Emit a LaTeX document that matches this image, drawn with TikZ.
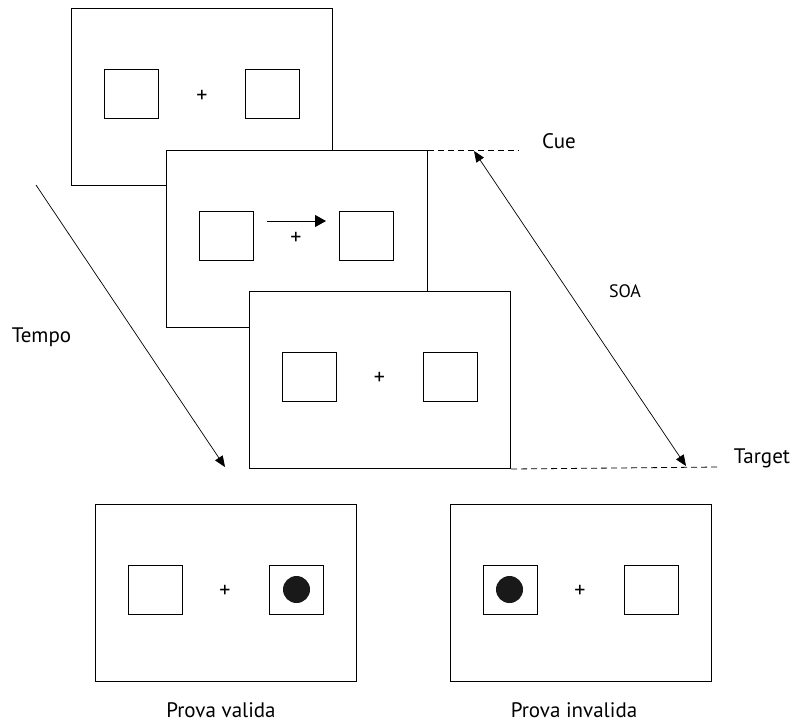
\documentclass[tikz,border=0pt]{standalone}
\usepackage{fontspec}
\setmainfont{PT Sans}
\usetikzlibrary{arrows.meta}
\begin{document}
\begin{tikzpicture}[x=1pt,y=-1pt,
  screen/.style={draw, fill=white, line width=1pt, minimum width=261pt,
    minimum height=177pt, inner sep=0pt, anchor=north west},
  placebox/.style={draw, line width=1pt, minimum width=54pt,
    minimum height=49pt, inner sep=0pt, anchor=north west},
  fix/.style={inner sep=0pt, font=\fontsize{22}{22}\selectfont},
  probe/.style={circle, fill=black!90, minimum size=27pt, inner sep=0pt},
  lbl/.style={inner sep=0pt, font=\fontsize{21}{25}\selectfont},
  smalllbl/.style={inner sep=0pt, font=\fontsize{18}{20}\selectfont},
  timeline/.style={line width=0.7pt, -{Triangle[length=11pt,width=9pt]}},
  guide/.style={line width=0.8pt, dash pattern=on 6pt off 4pt}
]
\useasboundingbox (0,0) rectangle (799,724);

% screen 1: fixation display
\node[screen] (s1) at (71,8) {};
\node[placebox] (s1l) at (104,69) {};
\node[placebox] (s1r) at (245,69) {};
\node[fix] (s1f) at (202,96) {+};

% screen 2: cue display
\node[screen] (s2) at (166,150) {};
\node[placebox] (s2l) at (199,211) {};
\node[placebox] (s2r) at (339,211) {};
\node[fix] (s2f) at (296,238) {+};
\coordinate (cueA) at (267,221);
\coordinate (cueB) at (326,221);
\draw[line width=1pt, -{Triangle[length=11pt,width=12pt]}] (cueA) -- (cueB);

% screen 3: fixation before target
\node[screen] (s3) at (249,291) {};
\node[placebox] (s3l) at (282,352) {};
\node[placebox] (s3r) at (423,352) {};
\node[fix] (s3f) at (379.5,378) {+};

% target displays
\node[screen] (s4) at (95,504) {};
\node[placebox] (s4l) at (128,565) {};
\node[placebox] (s4r) at (269,565) {};
\node[fix] (s4f) at (225,591.5) {+};
\node[probe] (s4p) at (296.5,589.5) {};

\node[screen] (s5) at (450,504) {};
\node[placebox] (s5l) at (483,565) {};
\node[placebox] (s5r) at (624,565) {};
\node[fix] (s5f) at (580,591.5) {+};
\node[probe] (s5p) at (509.5,589.5) {};

% time axis
\coordinate (t0) at (36,185);
\coordinate (t1) at (225,467);
\draw[timeline] (t0) -- (t1);
\node[lbl] (tempo) at (41.5,337) {Tempo};

% cue / target markers and SOA
\coordinate (cueEnd) at (519,150);
\coordinate (tgtEnd) at (719,467);
\draw[guide] (s2.north east) -- (cueEnd);
\draw[guide] (s3.south east) -- (tgtEnd);
\node[lbl] (cue) at (559,141) {Cue};
\node[lbl] (target) at (762,458) {Target};
\coordinate (soaA) at (474,151);
\coordinate (soaB) at (686,466);
\draw[line width=0.7pt, {Triangle[length=11pt,width=9pt]}-{Triangle[length=11pt,width=9pt]}] (soaA) -- (soaB);
\node[smalllbl] (soa) at (625,291) {SOA};

% captions
\node[lbl] (valid) at (221,710) {Prova valida};
\node[lbl] (invalid) at (574,710) {Prova invalida};
\end{tikzpicture}
\end{document}
